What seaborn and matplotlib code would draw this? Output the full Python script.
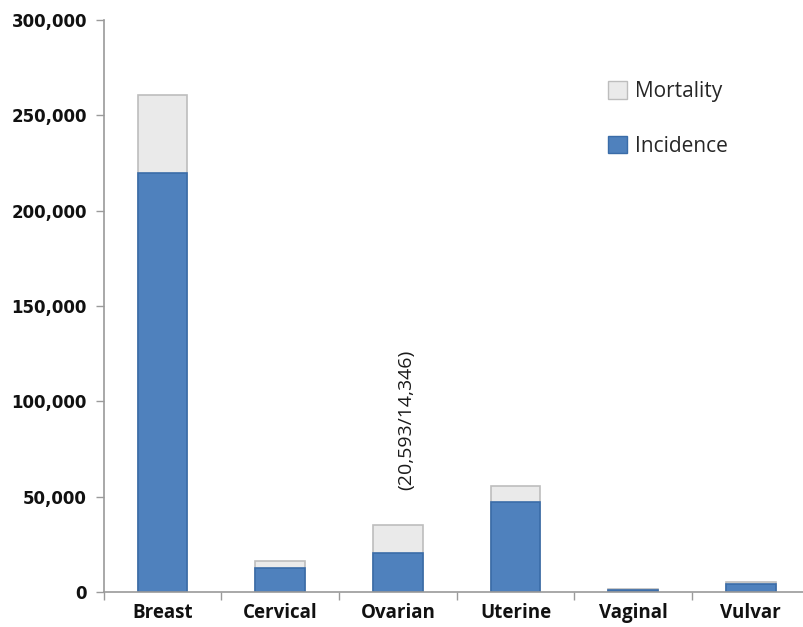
import matplotlib
matplotlib.use("Agg")
import matplotlib.pyplot as plt
import seaborn as sns
import pandas as pd
from matplotlib.ticker import FuncFormatter, FixedLocator
from matplotlib.patches import Patch

# Gynecologic and breast cancer cases vs deaths
cancers = ["Breast", "Cervical", "Ovarian", "Uterine", "Vaginal", "Vulvar"]
incidence = [220000, 12600, 20593, 47100, 1100, 4200]
mortality = [41000, 3700, 14346, 8300, 300, 1000]

df = pd.DataFrame({"cancer": cancers, "incidence": incidence, "mortality": mortality})
df["total"] = df["incidence"] + df["mortality"]

sns.set_style("white")
plt.rcParams["font.family"] = ["Open Sans", "DejaVu Sans"]

fig = plt.figure(figsize=(8.04, 6.27), dpi=100)
ax = fig.add_axes([0.129, 0.0558, 0.878, 0.912])

blue = "#4F81BD"
blue_edge = "#3A6CA8"
grey = "#EAEAEA"
grey_edge = "#BDBDBD"

sns.barplot(data=df, x="cancer", y="total", color=grey, width=0.42,
            edgecolor=grey_edge, linewidth=1.2, ax=ax, saturation=1)
sns.barplot(data=df, x="cancer", y="incidence", color=blue, width=0.42,
            edgecolor=blue_edge, linewidth=1.2, ax=ax, saturation=1)

ax.set_xlim(-0.5, 5.5)
ax.set_ylim(0, 300000)
ax.set_xlabel("")
ax.set_ylabel("")

ax.yaxis.set_major_locator(FixedLocator(range(0, 300001, 50000)))
ax.yaxis.set_major_formatter(FuncFormatter(lambda v, p: f"{int(v):,}"))
for lab in ax.get_yticklabels():
    lab.set_fontfamily("DejaVu Sans")
    lab.set_fontweight("bold")
    lab.set_fontsize(12)
    lab.set_color("#111111")
ax.tick_params(axis="y", which="major", direction="out", length=6,
               color="#9a9a9a", width=1, left=True, pad=6)

ax.set_xticks(range(len(cancers)))
ax.set_xticklabels(cancers, fontsize=13.5, fontweight="bold", color="#111111")
ax.tick_params(axis="x", which="major", length=0, pad=8)
ax.set_xticks([i - 0.5 for i in range(len(cancers) + 1)], minor=True)
ax.tick_params(axis="x", which="minor", direction="out", length=6,
               color="#9a9a9a", width=1, bottom=True)

for side in ["top", "right"]:
    ax.spines[side].set_visible(False)
for side in ["left", "bottom"]:
    ax.spines[side].set_color("#9a9a9a")
    ax.spines[side].set_linewidth(1.2)

ov = cancers.index("Ovarian")
ax.text(ov + 0.07, df.loc[ov, "total"] + 18500,
        f"({incidence[ov]:,}/{mortality[ov]:,})",
        rotation=90, ha="center", va="bottom", fontsize=14, color="#1a1a1a")

handles = [Patch(facecolor=grey, edgecolor=grey_edge, label="Mortality"),
           Patch(facecolor=blue, edgecolor=blue_edge, label="Incidence")]
ax.legend(handles=handles, loc="upper left", bbox_to_anchor=(0.688, 0.926),
          frameon=False, fontsize=15, labelspacing=1.6, handlelength=0.9,
          handleheight=0.9, handletextpad=0.4)

fig.savefig("out.png", dpi=100)
